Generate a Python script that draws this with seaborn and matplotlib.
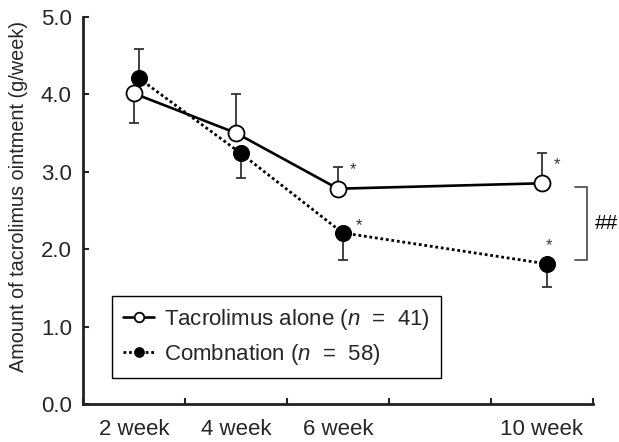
import numpy as np
import pandas as pd
import seaborn as sns
from matplotlib import pyplot as plt

weeks = [2, 4, 6, 10]
week_labels = ['2 week', '4 week', '6 week', '10 week']

tac_mean = [4.01, 3.50, 2.78, 2.85]
tac_err_lo = [0.38, 0.0, 0.0, 0.0]
tac_err_hi = [0.0, 0.50, 0.28, 0.39]

comb_mean = [4.21, 3.24, 2.21, 1.81]
comb_err_lo = [0.0, 0.32, 0.35, 0.30]
comb_err_hi = [0.38, 0.0, 0.0, 0.0]

tac_sig = [False, False, True, True]
comb_sig = [False, False, True, True]

tac_label = 'Tacrolimus alone ($\\it{n}$  =  41)'
comb_label = 'Combnation ($\\it{n}$  =  58)'


def run():
    sns.set_style('ticks')
    plt.rcParams['font.family'] = ['Liberation Sans', 'DejaVu Sans']
    plt.rcParams['mathtext.fontset'] = 'custom'
    plt.rcParams['mathtext.it'] = 'Liberation Sans:italic'
    plt.rcParams['mathtext.rm'] = 'Liberation Sans'

    fig = plt.figure(figsize=(6.19, 4.42), dpi=100)
    ax = fig.add_axes([0.134, 0.086, 0.824, 0.876])

    shift = 0.09
    tac_df = pd.DataFrame({'week': np.array(weeks, float), 'amount': tac_mean})
    comb_df = pd.DataFrame({'week': np.array(weeks, float) + shift, 'amount': comb_mean})

    # one sided error bars, drawn first so markers sit on top
    ax.errorbar(tac_df['week'], tac_df['amount'], yerr=[tac_err_lo, tac_err_hi],
                fmt='none', ecolor='#333333', elinewidth=1.3, capsize=3.5,
                capthick=1.3, zorder=2)
    ax.errorbar(comb_df['week'], comb_df['amount'], yerr=[comb_err_lo, comb_err_hi],
                fmt='none', ecolor='#333333', elinewidth=1.3, capsize=3.5,
                capthick=1.3, zorder=2)

    sns.lineplot(data=tac_df, x='week', y='amount', ax=ax, color='black',
                 linewidth=1.9, marker='o', markersize=11.5,
                 markerfacecolor='white', markeredgecolor='black',
                 markeredgewidth=1.3, label=tac_label, zorder=4)
    sns.lineplot(data=comb_df, x='week', y='amount', ax=ax, color='black',
                 linewidth=2.0, linestyle=(0, (1, 1)), marker='o',
                 markersize=11.5, markerfacecolor='black',
                 markeredgecolor='black', label=comb_label, zorder=3)

    # significance marks
    for w, m, s in zip(weeks, tac_mean, tac_sig):
        if s:
            ax.annotate('*', (w, m), xytext=(11, 8), textcoords='offset points',
                        ha='center', va='bottom', fontsize=12, color='#333333')
    for w, m, s, i in zip(weeks, comb_mean, comb_sig, range(len(weeks))):
        if s:
            off = (12, 0) if i < 3 else (2, 8)
            ax.annotate('*', (w + shift, m), xytext=off, textcoords='offset points',
                        ha='center', va='bottom', fontsize=12, color='#333333')

    # bracket between groups at 10 week
    bx0, bx1 = 10.65, 10.88
    by0, by1 = 1.86, 2.80
    ax.plot([bx0, bx1, bx1, bx0], [by1, by1, by0, by0], color='#555555',
            linewidth=1.3, clip_on=False)
    ax.text(11.27, (by0 + by1) / 2, '##', ha='center', va='center',
            fontsize=15, color='black', clip_on=False)

    ax.set_xlim(1, 11)
    ax.set_ylim(0, 5)
    ax.set_xticks([1, 3, 5, 7, 9, 11], labels=[])
    ax.set_xticks(weeks, labels=week_labels, minor=True)
    ax.tick_params(axis='x', which='major', direction='in', length=4, width=1.5)
    ax.tick_params(axis='x', which='minor', length=0, pad=11, labelsize=16)
    ax.set_yticks(np.arange(0, 5.1, 1.0))
    ax.set_yticklabels(['%.1f' % v for v in np.arange(0, 5.1, 1.0)])
    ax.tick_params(axis='y', direction='in', length=4, width=1.5, labelsize=16, pad=8)
    ax.set_xlabel('')
    ax.set_ylabel('Amount of tacrolimus ointment (g/week)', fontsize=14.3)
    ax.yaxis.set_label_coords(-0.107, 0.537)
    sns.despine(ax=ax)
    for sp in ['left', 'bottom']:
        ax.spines[sp].set_linewidth(2)
        ax.spines[sp].set_color('#222222')

    leg = ax.legend(loc='lower left', bbox_to_anchor=(0.057, 0.067),
                    borderaxespad=0, fancybox=False, framealpha=1,
                    edgecolor='black', fontsize=16, handlelength=1.4,
                    handletextpad=0.45, markerscale=0.6, labelspacing=0.45,
                    borderpad=0.5)
    leg.get_frame().set_linewidth(1.0)

    plt.savefig('out.png', dpi=100)


run()
